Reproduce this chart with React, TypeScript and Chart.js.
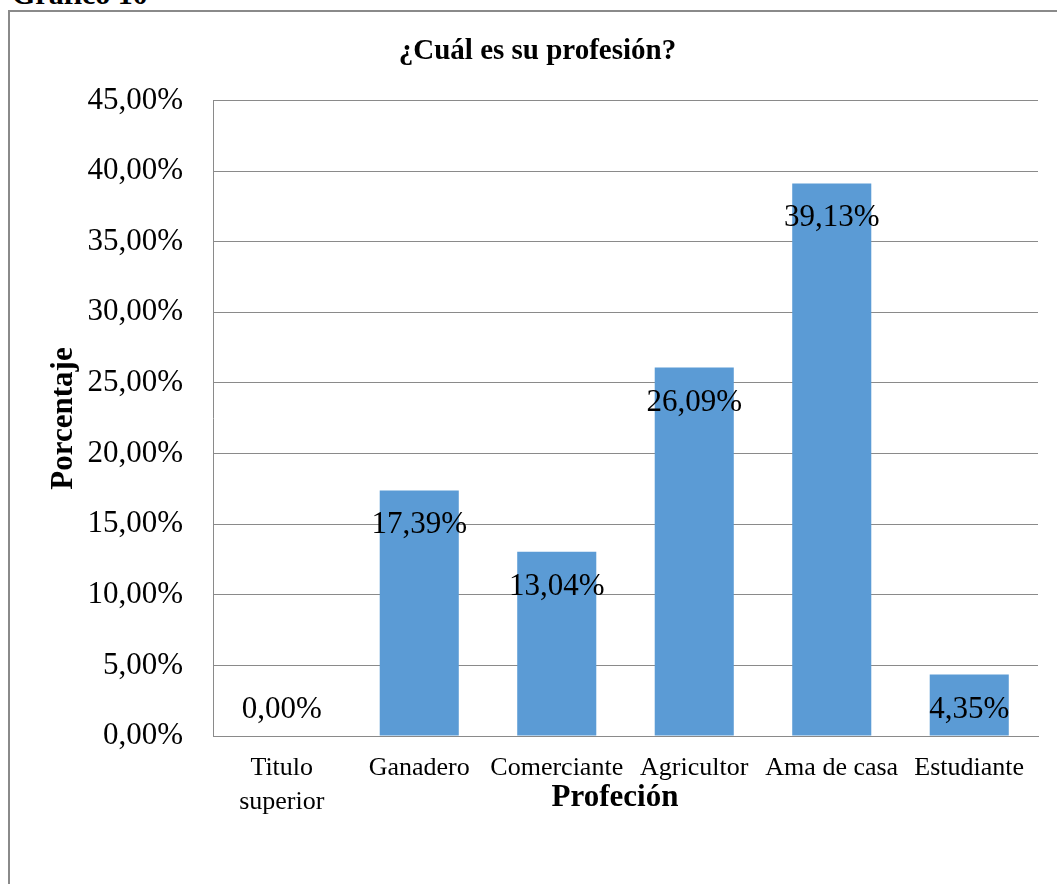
import { useEffect, useRef } from "react";
import { Chart, registerables } from "chart.js";

Chart.register(...registerables);

// Survey answers: share of respondents per profession
const categories: (string | string[])[] = [
  ["Titulo", "superior"],
  "Ganadero",
  "Comerciante",
  "Agricultor",
  "Ama de casa",
  "Estudiante",
];
const percentages = [0, 17.39, 13.04, 26.09, 39.13, 4.35];

const yMin = 0;
const yMax = 45;
const yStep = 5;

const figureCaption = "Gráfico 10";
const chartTitle = "¿Cuál es su profesión?";
const xAxisTitle = "Profeción";
const yAxisTitle = "Porcentaje";

const SERIF = '"Liberation Serif", "Times New Roman", serif';
const BAR_COLOR = "#5B9BD5";
const GRID_COLOR = "#8a8a8a";

const fmtPct = (v: number) => v.toFixed(2).replace(".", ",") + "%";

// Draws the chart title, the axis titles and the value labels inside the bars
const annotations = {
  id: "annotations",
  afterDatasetsDraw(chart: Chart) {
    const ctx = chart.ctx;
    ctx.save();
    ctx.fillStyle = "#000";

    // value labels
    ctx.font = `31px ${SERIF}`;
    ctx.textAlign = "center";
    ctx.textBaseline = "alphabetic";
    const meta = chart.getDatasetMeta(0);
    meta.data.forEach((bar: any, i: number) => {
      const v = percentages[i];
      const y = Math.min(bar.y + 43, bar.base - 18);
      ctx.fillText(fmtPct(v), bar.x, y);
    });

    // chart title
    ctx.font = `bold 29px ${SERIF}`;
    ctx.fillText(chartTitle, 527.5, 47);

    // x axis title
    ctx.font = `bold 31px ${SERIF}`;
    ctx.fillText(xAxisTitle, 605, 794);

    // y axis title
    ctx.translate(62, 406.5);
    ctx.rotate(-Math.PI / 2);
    ctx.fillText(yAxisTitle, 0, 0);
    ctx.restore();
  },
};

export default function App() {
  const canvasRef = useRef<HTMLCanvasElement>(null);

  useEffect(() => {
    if (!canvasRef.current) return;
    const chart = new Chart(canvasRef.current, {
      type: "bar",
      data: {
        labels: categories,
        datasets: [
          {
            data: percentages,
            backgroundColor: BAR_COLOR,
            borderWidth: 0,
            barPercentage: 0.575,
            categoryPercentage: 1,
          },
        ],
      },
      options: {
        animation: false,
        responsive: false,
        layout: { padding: { top: 88.5, right: 19, bottom: 0, left: 0 } },
        plugins: {
          legend: { display: false },
          title: { display: false },
          tooltip: { enabled: false },
        },
        scales: {
          x: {
            grid: { display: false, drawTicks: false },
            border: { display: true, color: GRID_COLOR, width: 1 },
            ticks: {
              font: { family: SERIF, size: 26, lineHeight: 1.3 },
              color: "#000",
              padding: 15,
              maxRotation: 0,
              autoSkip: false,
            },
            afterFit(scale: any) {
              scale.height = 148;
            },
          },
          y: {
            min: yMin,
            max: yMax,
            grid: { color: GRID_COLOR, lineWidth: 1, drawTicks: false },
            border: { display: true, color: GRID_COLOR, width: 1 },
            ticks: {
              stepSize: yStep,
              font: { family: SERIF, size: 31 },
              color: "#000",
              padding: 30,
              callback: (v: any) => fmtPct(Number(v)),
            },
            afterFit(scale: any) {
              scale.width = 203;
            },
          },
        },
      },
      plugins: [annotations],
    });
    return () => chart.destroy();
  }, []);

  return (
    <div
      style={{
        position: "absolute",
        left: 0,
        top: 0,
        width: 1057,
        height: 884,
        overflow: "hidden",
        background: "#fff",
      }}
    >
      <div
        style={{
          position: "absolute",
          left: 12,
          top: -21,
          font: `bold 30px ${SERIF}`,
          lineHeight: "30px",
          whiteSpace: "nowrap",
          color: "#000",
        }}
      >
        {figureCaption}
      </div>
      <div
        style={{
          position: "absolute",
          left: 8,
          top: 10,
          width: 1100,
          height: 1000,
          border: `2px solid ${GRID_COLOR}`,
        }}
      />
      <canvas
        ref={canvasRef}
        width={1047}
        height={872}
        style={{ position: "absolute", left: 10, top: 12 }}
      />
    </div>
  );
}
